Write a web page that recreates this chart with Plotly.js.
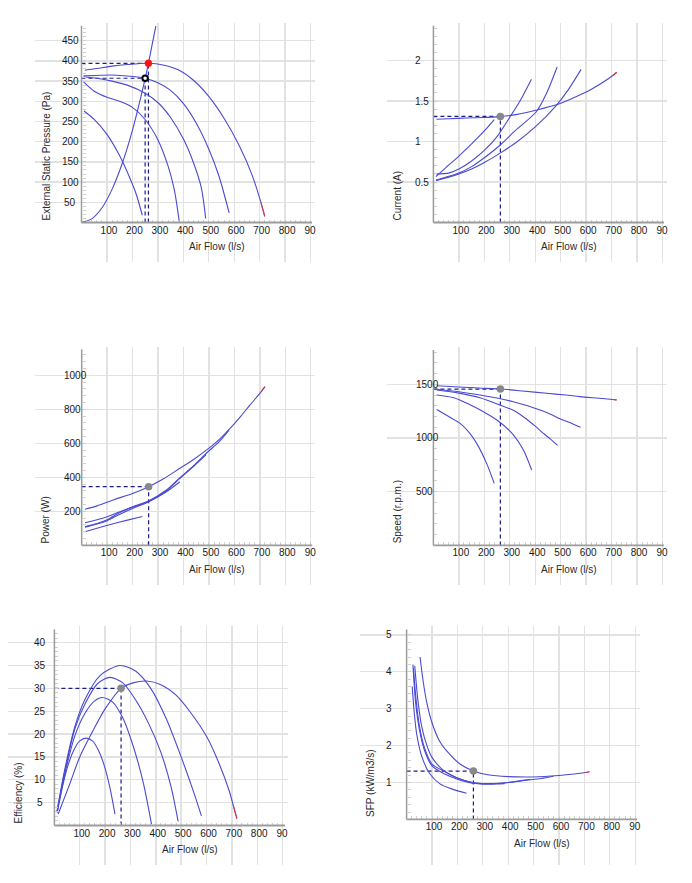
<!DOCTYPE html>
<html>
<head>
<meta charset="utf-8">
<script src="https://cdn.plot.ly/plotly-3.0.1.min.js"></script>
<style>
  html, body { margin: 0; padding: 0; background: #ffffff; }
  #chart { width: 692px; height: 883px; }
</style>
</head>
<body>
<div id="chart"></div>
<script>
// ---- Fan performance data: [air flow (l/s), value] for each fan curve ----
const flowTicks = [100, 200, 300, 400, 500, 600, 700, 800, 900];
const flowTickText = ['100', '200', '300', '400', '500', '600', '700', '800', '90\u2002'];

const pressureTicks = [50, 100, 150, 200, 250, 300, 350, 400, 450];
const currentTicks = [0.5, 1, 1.5, 2];
const powerTicks = [200, 400, 600, 800, 1000];
const speedTicks = [500, 1000, 1500];
const efficiencyTicks = [5, 10, 15, 20, 25, 30, 35, 40];
const sfpTicks = [1, 2, 3, 4, 5];

// External static pressure (Pa)
const pressure235 = [[10,276],[50,255],[100,218],[150,165],[190,110],[215,70],[239,18]];
const pressure380 = [[8,348],[50,325],[100,310],[150,300],[200,285],[250,255],[300,205],[340,140],[365,80],[384,2]];
const pressure485 = [[8,360],[60,357],[120,350],[180,340],[250,320],[300,297],[350,260],[400,207],[440,148],[470,88],[488,10]];
const pressure578 = [[8,363],[60,364],[120,365],[190,362],[250,357],[300,346],[350,327],[400,295],[450,247],[500,182],[540,115],[580,24]];
const pressure720 = [[13,377],[60,381],[120,387],[180,391],[263,394],[320,390],[380,378],[440,352],[500,312],[560,258],[620,190],[670,118],[705,50],[720,15]];
const systemCurve = [[0,0],[40,9],[80,36],[120,82],[160,146],[200,228],[250,356],[263,394],[292,486]];

// Current (A)
const current235 = [[10,0.566],[50,0.68],[100,0.82],[150,0.97],[200,1.13],[239,1.27]];
const current380 = [[10,0.60],[60,0.61],[100,0.66],[150,0.76],[200,0.89],[250,1.06],[300,1.30],[340,1.50],[385,1.77]];
const current485 = [[10,0.52],[60,0.57],[100,0.61],[150,0.69],[200,0.80],[264,0.96],[320,1.13],[405,1.37],[445,1.60],[486,1.92]];
const current578 = [[10,0.52],[60,0.56],[100,0.60],[150,0.66],[200,0.74],[264,0.86],[330,1.00],[400,1.18],[484,1.45],[530,1.64],[580,1.89]];
const current720 = [[12,1.274],[60,1.28],[130,1.29],[200,1.297],[264,1.307],[330,1.335],[400,1.385],[480,1.45],[540,1.525],[600,1.61],[660,1.72],[705,1.815],[720,1.855]];

// Power (W)
const power235 = [[13,80],[60,100],[120,125],[180,148],[238,169]];
const power380 = [[13,106],[60,125],[100,145],[150,183],[200,217],[262,255],[330,312],[386,374]];
const power485 = [[13,110],[60,128],[100,150],[150,193],[200,224],[262,258],[330,318],[386,394],[440,465],[488,532]];
const power578 = [[13,133],[60,150],[100,168],[150,197],[200,226],[262,260],[330,322],[386,398],[440,468],[491,543],[540,610],[579,678]];
const power720 = [[13,212],[60,232],[124,267],[200,305],[263,345],[320,390],[386,453],[440,505],[491,561],[540,622],[583,688],[620,750],[661,825],[705,903],[720,933]];

// Speed (r.p.m.)
const speed235 = [[13,1266],[60,1200],[105,1136],[140,1052],[170,950],[209,764],[239,577]];
const speed380 = [[13,1401],[80,1375],[144,1310],[200,1240],[255,1158],[314,1030],[353,890],[386,702]];
const speed485 = [[13,1447],[100,1418],[183,1375],[262,1307],[314,1258],[353,1198],[400,1110],[432,1043],[460,990],[488,931]];
const speed578 = [[6,1456],[100,1430],[183,1400],[250,1372],[314,1338],[370,1300],[419,1260],[460,1222],[497,1180],[540,1140],[578,1099]];
const speed720 = [[13,1487],[100,1475],[180,1465],[264,1456],[350,1438],[445,1416],[520,1400],[576,1385],[650,1370],[705,1358],[720,1354]];

// Efficiency (%)
const efficiency235 = [[11,2.8],[30,8],[50,12.5],[75,16.3],[100,18.5],[125,19.1],[150,18.5],[175,16.3],[200,12.5],[220,8],[239,2.5]];
const efficiency380 = [[11,3],[40,11],[80,19.5],[120,24.5],[160,27.3],[189,28],[230,27],[270,23.5],[310,17.5],[350,9.5],[383,0.3]];
const efficiency485 = [[10,3],[40,11.5],[80,21],[120,26.5],[170,31],[219,32.4],[270,31.2],[320,27.5],[370,22.5],[420,16],[460,8.5],[488,0.9]];
const efficiency578 = [[10,3],[40,12],[80,21.5],[120,27.5],[180,32.8],[259,35],[320,33.8],[380,30],[440,23.5],[500,15],[545,8],[580,2.1]];
const efficiency720 = [[15,2.5],[60,9],[100,15],[150,20.5],[200,25.5],[263,30],[310,31.2],[364,31.6],[420,30.8],[480,28.5],[540,24.5],[600,19.5],[650,13.5],[690,7.5],[705,4.5],[720,1.5]];

// Specific fan power (kW/m3/s)
const sfp235 = [[22,3.6],[30,2.9],[40,2.3],[60,1.7],[90,1.25],[130,0.97],[180,0.82],[236,0.71]];
const sfp380 = [[25,4.2],[35,3.2],[50,2.45],[70,1.88],[100,1.45],[150,1.23],[200,1.09],[262,0.98],[320,0.96],[386,0.97]];
const sfp485 = [[27,4.1],[35,3.4],[50,2.55],[70,1.95],[100,1.5],[150,1.3],[200,1.12],[262,0.99],[330,0.96],[400,1.0],[450,1.05],[488,1.09]];
const sfp578 = [[32,4.16],[45,3.2],[60,2.5],[80,2.0],[100,1.68],[150,1.3],[200,1.12],[262,0.99],[330,0.97],[400,1.0],[470,1.06],[530,1.11],[578,1.17]];
const sfp720 = [[53,4.4],[65,3.75],[80,3.15],[100,2.62],[130,2.12],[165,1.8],[210,1.5],[263,1.31],[320,1.21],[400,1.16],[500,1.15],[600,1.19],[660,1.23],[705,1.27],[720,1.29]];

// Operating point and requested duty point
const opFlow = 263;
const opPressure = 394, opCurrent = 1.31, opPower = 345, opSpeed = 1456, opEfficiency = 30, opSfp = 1.31;
const dutyFlow = 250, dutyPressure = 357;

// ---- Styling ----
const W = 692, H = 883;
const FONT = '"Liberation Sans", Arial, Helvetica, sans-serif';
const BLUE = '#4a4ad2';
const RED = '#e23a3a';
const DASH = '#1c1c8f';
const GRID = '#e2e2e2';
const AXIS = '#9c9c9c';
const MINOR = '#cfcfcf';

// Pixel geometry of each panel: axis origin (ox, oy), pixels per unit (sx, sy),
// extent of the grid area, top of the vertical axis line (data units),
// and where the value labels of the vertical axis sit (lx px, anchor la).
const panels = [
  {ox:81.5,  oy:222.5, sx:0.2545, sy:0.404,  left:35,  right:315, top:23,    bottom:262, yTop:487,  yMinor:10,  lx:70,    la:'center',
   ticks:pressureTicks, title:'External Static Pressure (Pa)',
   curves:[pressure235, pressure380, pressure485, pressure578, pressure720], op:opPressure},
  {ox:433.4, oy:222.5, sx:0.2546, sy:81,     left:387, right:667, top:23,    bottom:262, yTop:2.43, yMinor:0.1, lx:413,   la:'left',
   ticks:currentTicks, title:'Current (A)',
   curves:[current235, current380, current485, current578, current720], op:opCurrent},
  {ox:81.7,  oy:545.3, sx:0.2545, sy:0.17,   left:35,  right:315, top:346.5, bottom:585, yTop:1153, yMinor:40,  lx:61.5,  la:'left',
   ticks:powerTicks, title:'Power (W)',
   curves:[power235, power380, power485, power578, power720], op:opPower},
  {ox:433.4, oy:545.4, sx:0.2546, sy:0.1074, left:387, right:667, top:346.5, bottom:585, yTop:1819, yMinor:100, lx:413.5, la:'left',
   ticks:speedTicks, title:'Speed (r.p.m.)',
   curves:[speed235, speed380, speed485, speed578, speed720], op:opSpeed},
  {ox:54.4,  oy:825.5, sx:0.2535, sy:4.572,  left:8,   right:288, top:626,   bottom:865, yTop:42.9, yMinor:1,   lx:40,    la:'center',
   ticks:efficiencyTicks, title:'Efficiency (%)',
   curves:[efficiency235, efficiency380, efficiency485, efficiency578, efficiency720], op:opEfficiency},
  {ox:406.6, oy:819.4, sx:0.254,  sy:36.9,   left:360, right:640, top:626,   bottom:865, yTop:5.15, yMinor:0.2, lx:388.5, la:'center',
   ticks:sfpTicks, title:'SFP (kW/m3/s)',
   curves:[sfp235, sfp380, sfp485, sfp578, sfp720], op:opSfp}
];

const xs = pts => pts.map(p => p[0]);
const ys = pts => pts.map(p => p[1]);
const steps = (step, end) => {
  const out = [];
  for (let k = 1; k * step <= end + 1e-9; k++) out.push(Math.round(k * step * 1000) / 1000);
  return out;
};

const traces = [];
const shapes = [];
const annotations = [];
const layout = {
  width: W, height: H,
  margin: {l: 0, r: 0, t: 0, b: 0},
  paper_bgcolor: '#ffffff', plot_bgcolor: 'rgba(0,0,0,0)',
  showlegend: false,
  font: {family: FONT, size: 10, color: '#1a1a1a'},
  hovermode: false
};

panels.forEach((p, i) => {
  const n = i + 1;
  const sfx = n === 1 ? '' : String(n);
  const xa = 'x' + sfx, ya = 'y' + sfx;
  const xEnd = 230.5 / p.sx;

  layout['xaxis' + sfx] = {
    domain: [p.left / W, p.right / W],
    range: [(p.left - p.ox) / p.sx, (p.right - p.ox) / p.sx],
    anchor: 'free', position: 1 - p.oy / H,
    tickmode: 'array', tickvals: flowTicks, ticktext: flowTickText,
    ticks: '', showline: false, zeroline: false,
    showgrid: true, gridcolor: GRID, gridwidth: 1.4,
    tickfont: {family: FONT, size: 10, color: '#1a1a1a'},
    ticklabelshift: 2,
    minor: {tickmode: 'array', tickvals: steps(20, xEnd), ticks: 'inside', ticklen: 3, tickwidth: 1, tickcolor: MINOR, showgrid: false},
    fixedrange: true
  };
  layout['yaxis' + sfx] = {
    domain: [1 - p.bottom / H, 1 - p.top / H],
    range: [(p.oy - p.bottom) / p.sy, (p.oy - p.top) / p.sy],
    anchor: 'free', position: p.ox / W,
    tickmode: 'array', tickvals: p.ticks, showticklabels: false,
    ticks: '', showline: false, zeroline: false,
    showgrid: true, gridcolor: GRID, gridwidth: 1.4,
    minor: {tickmode: 'array', tickvals: steps(p.yMinor, p.yTop), ticks: 'inside', ticklen: 3, tickwidth: 1, tickcolor: MINOR, showgrid: false},
    fixedrange: true
  };

  // value labels of the vertical axis
  p.ticks.forEach(v => annotations.push({
    xref: 'paper', yref: ya, x: p.lx / W, y: v,
    xanchor: p.la, yanchor: 'middle', showarrow: false, text: String(v),
    font: {family: FONT, size: 10, color: '#1a1a1a'}
  }));

  // axis lines
  shapes.push({type: 'line', xref: xa, yref: ya, x0: 0, y0: 0, x1: 0, y1: p.yTop, line: {color: AXIS, width: 1.5}});
  shapes.push({type: 'line', xref: xa, yref: ya, x0: 0, y0: 0, x1: xEnd, y1: 0, line: {color: AXIS, width: 1.8}});

  // axis titles
  annotations.push({xref: 'paper', yref: 'paper', x: (p.ox + 135.5) / W, y: 1 - (p.oy + 24) / H,
    xanchor: 'center', yanchor: 'middle', showarrow: false, text: 'Air Flow (l/s)',
    font: {family: FONT, size: 10, color: '#2a2a2a'}});
  annotations.push({xref: 'paper', yref: 'paper', x: (p.ox - 36) / W, y: 1 - p.oy / H,
    xanchor: 'center', yanchor: 'bottom', textangle: -90, showarrow: false, text: p.title,
    font: {family: FONT, size: 10, color: '#2a2a2a'}});

  const line = {color: BLUE, width: 1.1, shape: 'spline', smoothing: 0.8};
  const base = {type: 'scatter', mode: 'lines', xaxis: xa, yaxis: ya, hoverinfo: 'skip'};

  // dashed guides to the operating point
  const dash = {color: DASH, width: 1.2, dash: '4px,3px'};
  traces.push(Object.assign({}, base, {x: [0, opFlow], y: [p.op, p.op], line: dash}));
  traces.push(Object.assign({}, base, {x: [opFlow, opFlow], y: [0, p.op], line: dash}));
  if (n === 1) {
    traces.push(Object.assign({}, base, {x: [0, dutyFlow], y: [dutyPressure, dutyPressure], line: dash}));
    traces.push(Object.assign({}, base, {x: [dutyFlow, dutyFlow], y: [0, dutyPressure], line: dash}));
    traces.push(Object.assign({}, base, {x: xs(systemCurve), y: ys(systemCurve), line: line}));
  }

  // fan curves
  p.curves.forEach(c => traces.push(Object.assign({}, base, {x: xs(c), y: ys(c), line: line})));

  // end of the top-speed curve in red
  const top = p.curves[p.curves.length - 1].slice(-2);
  traces.push(Object.assign({}, base, {x: xs(top), y: ys(top), line: {color: RED, width: 1.1}}));

  // operating point markers
  if (n === 1) {
    traces.push(Object.assign({}, base, {mode: 'markers', x: [opFlow], y: [opPressure],
      marker: {size: 7, color: '#ff1010', line: {color: '#ff1010', width: 0.5}}}));
    traces.push(Object.assign({}, base, {mode: 'markers', x: [dutyFlow], y: [dutyPressure],
      marker: {size: 5.5, color: '#ffffff', line: {color: '#000000', width: 2}}}));
  } else {
    traces.push(Object.assign({}, base, {mode: 'markers', x: [opFlow], y: [p.op],
      marker: {size: 7.5, color: '#888888', line: {width: 0}}}));
  }
});

layout.shapes = shapes;
layout.annotations = annotations;

Plotly.newPlot('chart', traces, layout, {displayModeBar: false, staticPlot: true});
</script>
</body>
</html>
